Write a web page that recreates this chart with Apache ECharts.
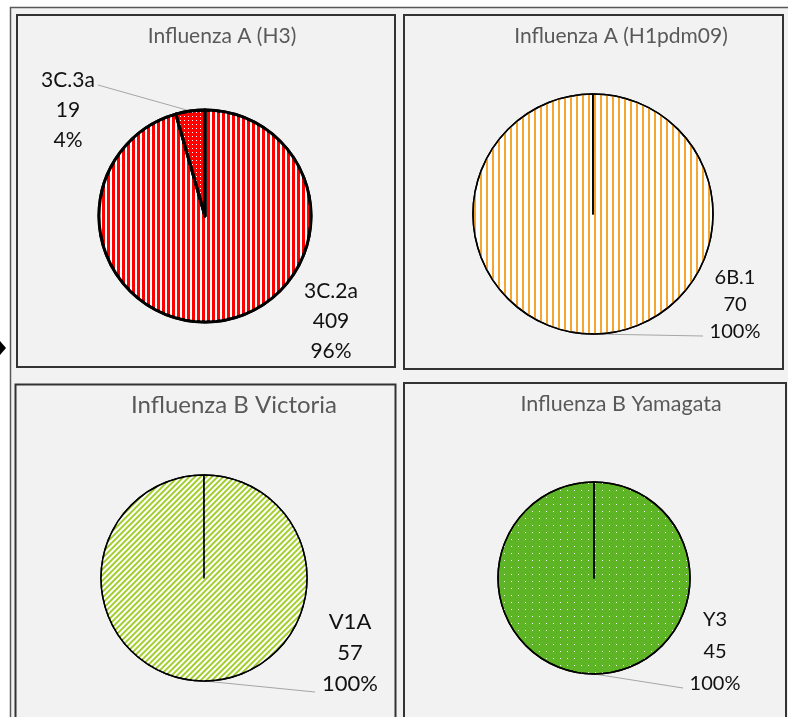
<!DOCTYPE html>
<html>
<head>
<meta charset="utf-8">
<script src="https://cdn.jsdelivr.net/npm/echarts@6/dist/echarts.min.js"></script>
<style>
html, body { margin: 0; padding: 0; background: #fff; }
#main { width: 788px; height: 717px; }
</style>
</head>
<body>
<div id="main"></div>
<script>
// data
const titles = ['Influenza A (H3)', 'Influenza A (H1pdm09)', 'Influenza B Victoria', 'Influenza B Yamagata']
const h3Clades = ['3C.2a', '3C.3a']
const h3Counts = [409, 19]
const h1Clades = ['6B.1']
const h1Counts = [70]
const vicClades = ['V1A']
const vicCounts = [57]
const yamClades = ['Y3']
const yamCounts = [45]

// layout of the 4 panels
const centers = [[205, 216], [593, 214], [204, 578], [594, 578]]
const radii = [106, 120, 103, 96]
const titlePos = [[222, 36], [621, 36], [234, 405], [621, 404]]
const titleSize = [21, 21, 24, 21.5]
const labelSize = [21, 20, 22, 20]
const labelLH = [30, 27, 31, 32]
// where each label block sits (center) and where its leader line ends
const labelSpots = [
    [[331, 321], [68, 110]],
    [[735, 305]],
    [[350, 653]],
    [[715, 652]],
]
const lineEnds = [
    [null, [98, 85]],
    [[703, 336]],
    [[315, 692]],
    [[683, 688]],
]

const FONT = 'Lato, "Open Sans", sans-serif'

function toItems(names, values, styles) {
    return names.map((n, i) => ({ name: n, value: values[i], ...styles[i] }))
}

function pieSeries(idx, data, border, full) {
    return {
        type: 'pie',
        center: centers[idx],
        radius: radii[idx],
        startAngle: 90,
        endAngle: full ? -269.9 : 'auto',
        clockwise: true,
        avoidLabelOverlap: false,
        percentPrecision: 0,
        itemStyle: { borderColor: '#000', borderWidth: border },
        label: {
            show: true,
            position: 'outside',
            formatter: '{b}\n{c}\n{d}%',
            color: '#111',
            fontFamily: FONT,
            fontSize: labelSize[idx],
            lineHeight: labelLH[idx],
            align: 'center',
        },
        labelLine: { show: true, lineStyle: { color: '#a6a6a6', width: 1 } },
        labelLayout: function (p) {
            const spot = labelSpots[idx][p.dataIndex]
            const end = lineEnds[idx][p.dataIndex]
            const out = { x: spot[0], y: spot[1], align: 'center', verticalAlign: 'middle' }
            if (end && p.labelLinePoints) {
                out.labelLinePoints = [p.labelLinePoints[0], end, end]
            }
            return out
        },
        emphasis: { disabled: true },
        data,
    }
}

const stripesRed = {
    color: '#ff0000',
    decal: { symbol: 'rect', symbolSize: 1, color: '#ffffff', dashArrayX: [2, 3], dashArrayY: [5, 0] },
}
const dotsRed = {
    color: '#ff0000',
    decal: { symbol: 'rect', symbolSize: 1, color: '#ffffff', dashArrayX: [1, 2.5], dashArrayY: [1, 2.5] },
}
const stripesOrange = {
    color: '#ffffff',
    decal: { symbol: 'rect', symbolSize: 1, color: '#f5a630', dashArrayX: [2, 3.5], dashArrayY: [5, 0] },
}
const diagGreen = {
    color: '#a3cf2e',
    decal: { symbol: 'rect', symbolSize: 1, color: '#ffffff', dashArrayX: [1, 0], dashArrayY: [1.5, 2], rotation: -Math.PI / 4 },
}
const dotsGreen = {
    color: '#5db424',
    decal: { symbol: 'rect', symbolSize: 1, color: '#ffffff', dashArrayX: [1, 5.5], dashArrayY: [1, 5.5] },
}

const panel = (x, y, w, h) => ({
    type: 'rect', z: 0, silent: true,
    shape: { x, y, width: w, height: h },
    style: { fill: '#f2f2f2', stroke: '#333', lineWidth: 2 },
})

const titleText = (i) => ({
    type: 'text', z: 5, silent: true,
    x: titlePos[i][0], y: titlePos[i][1],
    style: {
        text: titles[i], fill: '#595959', align: 'center', verticalAlign: 'middle',
        font: titleSize[i] + 'px ' + FONT,
    },
})

let chart = echarts.init(document.getElementById('main'), null, { renderer: 'canvas' })
chart.setOption({
    backgroundColor: '#ffffff',
    animation: false,
    graphic: [
        {
            type: 'rect', z: 0, silent: true,
            shape: { x: 10.5, y: 7.5, width: 800, height: 730 },
            style: { fill: '#f2f2f2', stroke: '#595959', lineWidth: 1.5 },
        },
        panel(17, 15, 378, 352),
        panel(404, 15, 379, 354),
        panel(15.5, 384.5, 380, 345),
        panel(404, 383, 382, 345),
        {
            type: 'polygon', z: 1, silent: true,
            shape: { points: [[0, 341], [6, 348], [0, 355]] },
            style: { fill: '#000' },
        },
        titleText(0), titleText(1), titleText(2), titleText(3),
    ],
    series: [
        pieSeries(0, toItems(h3Clades, h3Counts, [
            { itemStyle: stripesRed, labelLine: { show: false } },
            { itemStyle: dotsRed },
        ]), 3, false),
        pieSeries(1, toItems(h1Clades, h1Counts, [{ itemStyle: stripesOrange }]), 1.5, true),
        pieSeries(2, toItems(vicClades, vicCounts, [{ itemStyle: diagGreen }]), 1.5, true),
        pieSeries(3, toItems(yamClades, yamCounts, [{ itemStyle: dotsGreen }]), 1.5, true),
    ],
})
</script>
</body>
</html>
